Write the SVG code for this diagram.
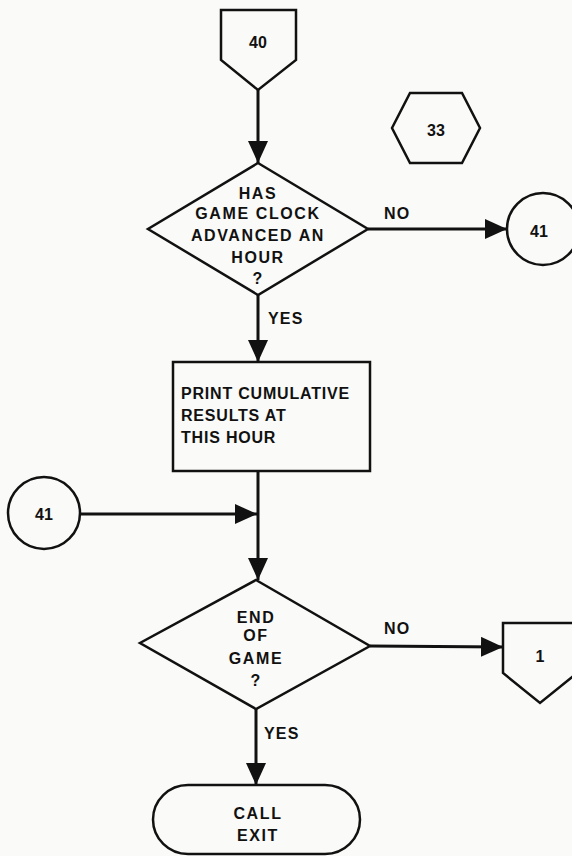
<svg xmlns="http://www.w3.org/2000/svg" width="572" height="856" viewBox="0 0 572 856">
<defs>
<marker id="ah" markerUnits="userSpaceOnUse" markerWidth="22" markerHeight="20" refX="22" refY="10" orient="auto">
<path d="M0,0 L22,10 L0,20 z" fill="#111"/>
</marker>
<style>
.s{fill:none;stroke:#111;stroke-width:2.5;stroke-linejoin:miter}
.c{fill:none;stroke:#111;stroke-width:3;marker-end:url(#ah)}
text{font-family:"Liberation Sans",Arial,sans-serif;font-weight:bold;font-size:16px;fill:#111;letter-spacing:1.2px}
.m{text-anchor:middle}
.w{letter-spacing:1.6px}
.r{letter-spacing:0.8px}
.n{font-size:16px;letter-spacing:0}
</style>
</defs>
<rect x="0" y="0" width="572" height="856" fill="#fafaf8"/>
<g id="connectors">
<line class="c" x1="258" y1="90" x2="258" y2="163"/>
<line class="c" x1="368" y1="229" x2="507" y2="229"/>
<line class="c" x1="258" y1="295" x2="258" y2="362"/>
<line class="c" x1="258" y1="471" x2="258" y2="580"/>
<line class="c" x1="80" y1="514" x2="257" y2="514"/>
<line class="c" x1="370" y1="646" x2="503" y2="647"/>
<line class="c" x1="256" y1="709" x2="256" y2="785"/>
<text x="384" y="219">NO</text>
<text x="268" y="324">YES</text>
<text x="384" y="634">NO</text>
<text x="264" y="739">YES</text>
</g>
<g id="n40">
<polygon class="s" points="221,10 296,10 296,60 258,90 221,60"/>
<text class="m n" x="258" y="48">40</text>
</g>
<g id="n33">
<polygon class="s" points="392,128 410,93 462,93 480,128 462,163 410,163"/>
<text class="m n" x="436" y="136">33</text>
</g>
<g id="d1">
<polygon class="s" points="258,163 368,229 258,295 148,229"/>
<text class="m w" x="258" y="199">HAS</text>
<text class="m w" x="258" y="219">GAME CLOCK</text>
<text class="m w" x="258" y="241">ADVANCED AN</text>
<text class="m w" x="258" y="263">HOUR</text>
<text class="m" x="258" y="284">?</text>
</g>
<g id="c41r">
<circle class="s" cx="543" cy="229" r="36"/>
<text class="m n" x="539" y="237">41</text>
</g>
<g id="print">
<rect class="s" x="173" y="362" width="197" height="109"/>
<text class="r" x="181" y="399">PRINT CUMULATIVE</text>
<text class="r" x="181" y="421">RESULTS AT</text>
<text class="r" x="181" y="443">THIS HOUR</text>
</g>
<g id="c41l">
<circle class="s" cx="44" cy="513" r="36"/>
<text class="m n" x="44" y="520">41</text>
</g>
<g id="d2">
<polygon class="s" points="256,580 370,646 256,709 140,643"/>
<text class="m w" x="256" y="623">END</text>
<text class="m w" x="256" y="641">OF</text>
<text class="m w" x="256" y="664">GAME</text>
<text class="m" x="256" y="686">?</text>
</g>
<g id="n1">
<polygon class="s" points="503,623 577,623 577,673 540,703 503,673"/>
<text class="m n" x="540" y="662">1</text>
</g>
<g id="exit">
<rect class="s" x="153" y="785" width="207" height="69" rx="35" ry="35"/>
<text class="m w" x="258" y="819">CALL</text>
<text class="m w" x="258" y="841">EXIT</text>
</g>
</svg>
